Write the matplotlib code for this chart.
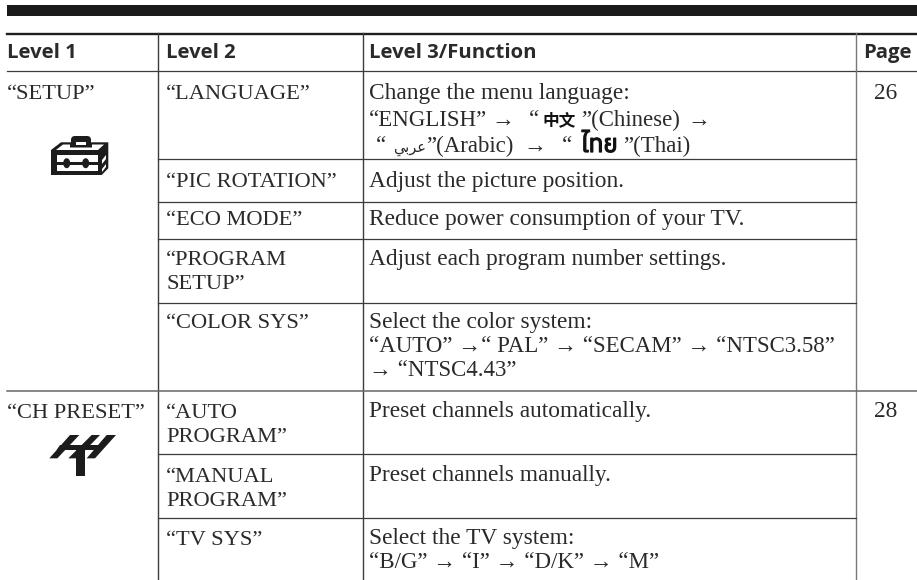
import matplotlib
matplotlib.use("Agg")
import matplotlib.pyplot as plt
import matplotlib.patheffects as pe
from matplotlib.patches import Polygon, Rectangle, Ellipse, FancyBboxPatch

W, H = 917, 580
SERIF = ['Liberation Serif', 'DejaVu Sans']
plt.rcParams['font.family'] = SERIF

headers = ["Level 1", "Level 2", "Level 3/Function", "Page"]
level1 = ["\u201cSETUP\u201d", "\u201cCH PRESET\u201d"]
pages = ["26", "28"]
level2 = ["\u201cLANGUAGE\u201d", "\u201cPIC ROTATION\u201d", "\u201cECO MODE\u201d", "\u201cPROGRAM\nSETUP\u201d",
          "\u201cCOLOR SYS\u201d", "\u201cAUTO\nPROGRAM\u201d", "\u201cMANUAL\nPROGRAM\u201d", "\u201cTV SYS\u201d"]
level3 = [
    "Change the menu language:",
    "Adjust the picture position.",
    "Reduce power consumption of your TV.",
    "Adjust each program number settings.",
    "Select the color system:\n\u201cAUTO\u201d \u2192\u201c PAL\u201d \u2192 \u201cSECAM\u201d \u2192 \u201cNTSC3.58\u201d\n\u2192 \u201cNTSC4.43\u201d",
    "Preset channels automatically.",
    "Preset channels manually.",
    "Select the TV system:\n\u201cB/G\u201d \u2192 \u201cI\u201d \u2192 \u201cD/K\u201d \u2192 \u201cM\u201d",
]
lang_line2 = ["\u201cENGLISH\u201d", "\u2192", "\u201c", "\u4e2d\u6587", "\u201d(Chinese)", "\u2192"]
lang_line3 = ["\u201c", "\ufef2\ufe91\ufeae\ufecb", "\u201d(Arabic)", "\u2192", "\u201c", "\u0e44\u0e17\u0e22", "\u201d(Thai)"]

fig = plt.figure(figsize=(W/100, H/100), dpi=100)
ax = fig.add_axes([0, 0, 1, 1])
ax.set_xlim(0, W); ax.set_ylim(H, 0); ax.axis('off')

INK = '#2a2a2a'
LINE = '#3c3c3c'
ax.add_patch(Rectangle((7, 5), W-7, 11, color='#1a1a1a', lw=0))
ax.plot([7, W], [33.5, 33.5], color='#1f1f1f', lw=1.7)
ax.plot([7, W], [71, 71], color=LINE, lw=0.9)

col_x = [158, 363, 856]
for x, c in zip(col_x, [LINE, LINE, '#777777']):
    ax.plot([x, x], [33, H], color=c, lw=1.0)

row_y = [159, 202, 239, 303, 454, 518]
for y in row_y:
    ax.plot([col_x[0], col_x[2]], [y, y], color=LINE, lw=0.9)
ax.plot([7, W], [391, 391], color='#666666', lw=1.1)

hx = [7, 166, 369, 863]
for x, t in zip(hx, headers):
    ax.text(x, 58, t, family='Open Sans', weight='bold', fontsize=14.6, color=INK, va='baseline', ha='left')

FS_BODY = 16.8
FS_CAPS = 16.2
FS_ARROW = 16.5
LEAD = 24
base2 = [99, 187, 225, 265, 328, 418, 482, 545]
base3 = [99, 187, 225, 265, 328, 417, 481, 544]

def block(x, y, s, fs):
    for i, line in enumerate(s.split('\n')):
        size = FS_ARROW if '\u2192' in line else fs
        ax.text(x, y + i*LEAD, line, fontsize=size, color=INK, va='baseline', ha='left')

for t, y in zip(level2, base2):
    block(166, y, t, FS_CAPS)
for t, y in zip(level3, base3):
    block(369, y, t, FS_BODY)
for t, y in zip(level1, [99, 418]):
    ax.text(7, y, t, fontsize=FS_CAPS, color=INK, va='baseline', ha='left')
for t, y in zip(pages, [99, 417]):
    ax.text(885.5, y, t, fontsize=FS_BODY, color=INK, va='baseline', ha='center')

# language row, segment by segment
for i, (t, x) in enumerate(zip(lang_line2, [369, 491, 529, 542, 581, 687])):
    if i == 3:
        ax.text(x, 125.5, t, family=['Noto Sans CJK SC'], weight='bold', fontsize=12, color='#111111', va='baseline')
    else:
        ax.text(x, 126, t, fontsize=FS_ARROW, color=INK, va='baseline')
for i, (t, x) in enumerate(zip(lang_line3, [376, 393, 426, 523, 562, 581, 623])):
    if i == 1:
        ax.text(x, 152, t, family=['DejaVu Sans'], fontsize=10.5, color=INK, va='baseline')
    elif i == 5:
        ax.text(x, 152, t, family=['Anuphan', 'DejaVu Sans'], weight='bold', fontsize=17.5, color='#111111', va='baseline',
                path_effects=[pe.withStroke(linewidth=0.9, foreground='#111111')])
    else:
        ax.text(x, 152, t, fontsize=FS_ARROW, color=INK, va='baseline')

# toolbox icon
K = '#1c1c1c'
ax.add_patch(FancyBboxPatch((71, 136), 20, 14, boxstyle='round,pad=0,rounding_size=4', fc=K, ec='none'))
ax.add_patch(Polygon([(51, 150), (61, 142.3), (108.3, 142.3), (108.3, 168.3), (101.7, 175), (51, 175)], fc=K, ec='none'))
ax.add_patch(Rectangle((76, 141.5), 9.5, 3.5, fc='white', ec='none'))
ax.add_patch(Polygon([(56, 150), (63, 144.5), (70, 144.5), (70, 147.5), (92, 147.5), (92, 144.5), (104, 144.5), (98, 150)], fc='white', ec='none'))
ax.add_patch(Rectangle((56.5, 155), 41, 7, fc='white', ec='none'))
ax.add_patch(Rectangle((56.5, 165), 41, 6, fc='white', ec='none'))
for cx in (66.7, 85.7):
    ax.add_patch(Ellipse((cx, 163.2), 7, 10, fc=K, ec='none'))
ax.add_patch(Polygon([(102, 160), (106, 155), (106, 159), (102, 164)], fc='white', ec='none'))
ax.add_patch(Polygon([(102, 169), (106, 164), (106, 167), (102, 172)], fc='white', ec='none'))

# antenna icon
def Z9(pts):
    return [(40 + a/3, 425 + b/3) for a, b in pts]
for pts in ([(28, 100), (90, 30), (118, 30), (52, 100)],
            [(85, 100), (155, 30), (180, 30), (112, 100)],
            [(140, 100), (200, 30), (228, 30), (165, 100)],
            [(60, 60), (190, 60), (180, 75), (50, 75)],
            [(108, 70), (135, 70), (135, 152), (108, 152)]):
    ax.add_patch(Polygon(Z9(pts), fc=K, ec='none'))

fig.savefig('out.png', dpi=100)
